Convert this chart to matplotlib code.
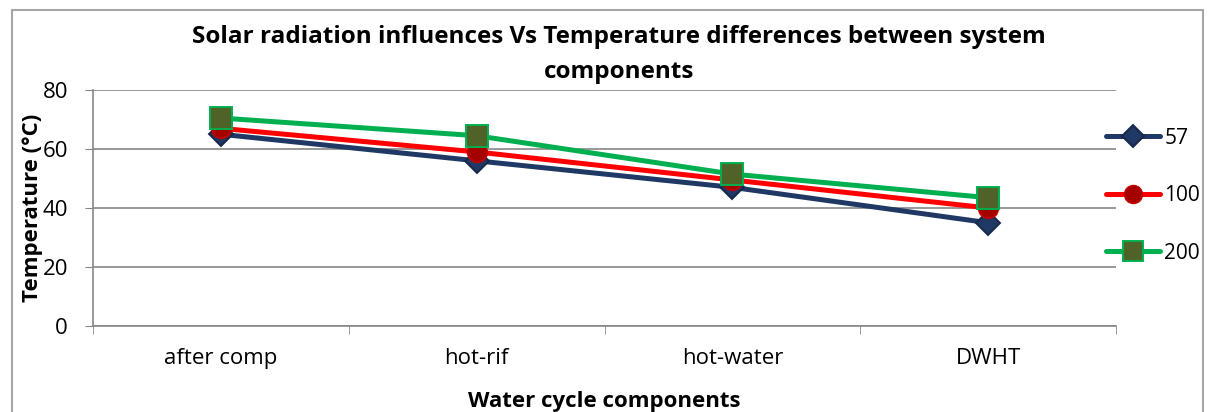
import matplotlib.pyplot as plt
from matplotlib.patches import Rectangle

categories = ["after comp", "hot-rif", "hot-water", "DWHT"]
series_names = ["57", "100", "200"]
temp_57 = [65, 56, 47, 35]
temp_100 = [67, 59, 49.5, 40]
temp_200 = [70.5, 64.5, 51.5, 43.5]

plt.rcParams["font.family"] = ["Open Sans", "DejaVu Sans"]

fig = plt.figure(figsize=(12.14, 4.12), dpi=100)
ax = fig.add_axes([93 / 1214, 86 / 412, 1023 / 1214, 236 / 412])

# outer chart frame
fig.patches.append(Rectangle((12 / 1214, -0.05), 1191 / 1214, 1.05 - 10 / 412,
                             transform=fig.transFigure, fill=False,
                             edgecolor="#a6a6a6", linewidth=1.5))

x = range(len(categories))
styles = [
    (temp_57, "#1f3864", "D", "#1f3864", "#17294a", 12),
    (temp_100, "#ff0000", "o", "#a50000", "#c00000", 14),
    (temp_200, "#00b050", "s", "#4f6228", "#00b050", 16),
]
for (vals, col, mk, fc, ec, ms), name in zip(styles, series_names):
    ax.plot(x, vals, color=col, linewidth=3.6, marker=mk, markersize=ms,
            markerfacecolor=fc, markeredgecolor=ec, markeredgewidth=1.4,
            label=name, solid_capstyle="round")

ax.set_xlim(-0.5, len(categories) - 0.5)
ax.set_ylim(0, 80)
ax.set_yticks(range(0, 81, 20))
ax.set_xticks(x)
ax.set_xticklabels(categories)
ax.set_xticks([i - 0.5 for i in range(len(categories) + 1)], minor=True)
ax.tick_params(axis="x", which="major", length=0, labelsize=16, pad=16)
ax.tick_params(axis="x", which="minor", length=6, color="#868686", direction="out")
ax.tick_params(axis="y", length=6, color="#868686", labelsize=16, pad=12)
ax.grid(axis="y", color="#868686", linewidth=1.2)
ax.set_axisbelow(True)
for side in ["top", "right"]:
    ax.spines[side].set_visible(False)
for side in ["left", "bottom"]:
    ax.spines[side].set_color("#868686")
    ax.spines[side].set_linewidth(1.2)

ax.set_xlabel("Water cycle components", fontsize=16, fontweight="bold", labelpad=16)
ax.set_ylabel("Temperature (°C)", fontsize=16, fontweight="bold")
ax.yaxis.set_label_coords(-50 / 1023, 0.5)

fig.text(0.51, 1 - 37 / 412, "Solar radiation influences Vs Temperature differences between system",
         ha="center", va="center", fontsize=17.5, fontweight="bold")
fig.text(0.51, 1 - 72 / 412, "components", ha="center", va="center",
         fontsize=17.5, fontweight="bold")

ax.legend(loc="upper left", bbox_to_anchor=(1013 / 1023, 0.84), frameon=False,
          fontsize=15, handlelength=2.6, handletextpad=0.2, labelspacing=1.75,
          borderaxespad=0, borderpad=0, markerscale=0.9)

fig.savefig("out.png", dpi=100)
